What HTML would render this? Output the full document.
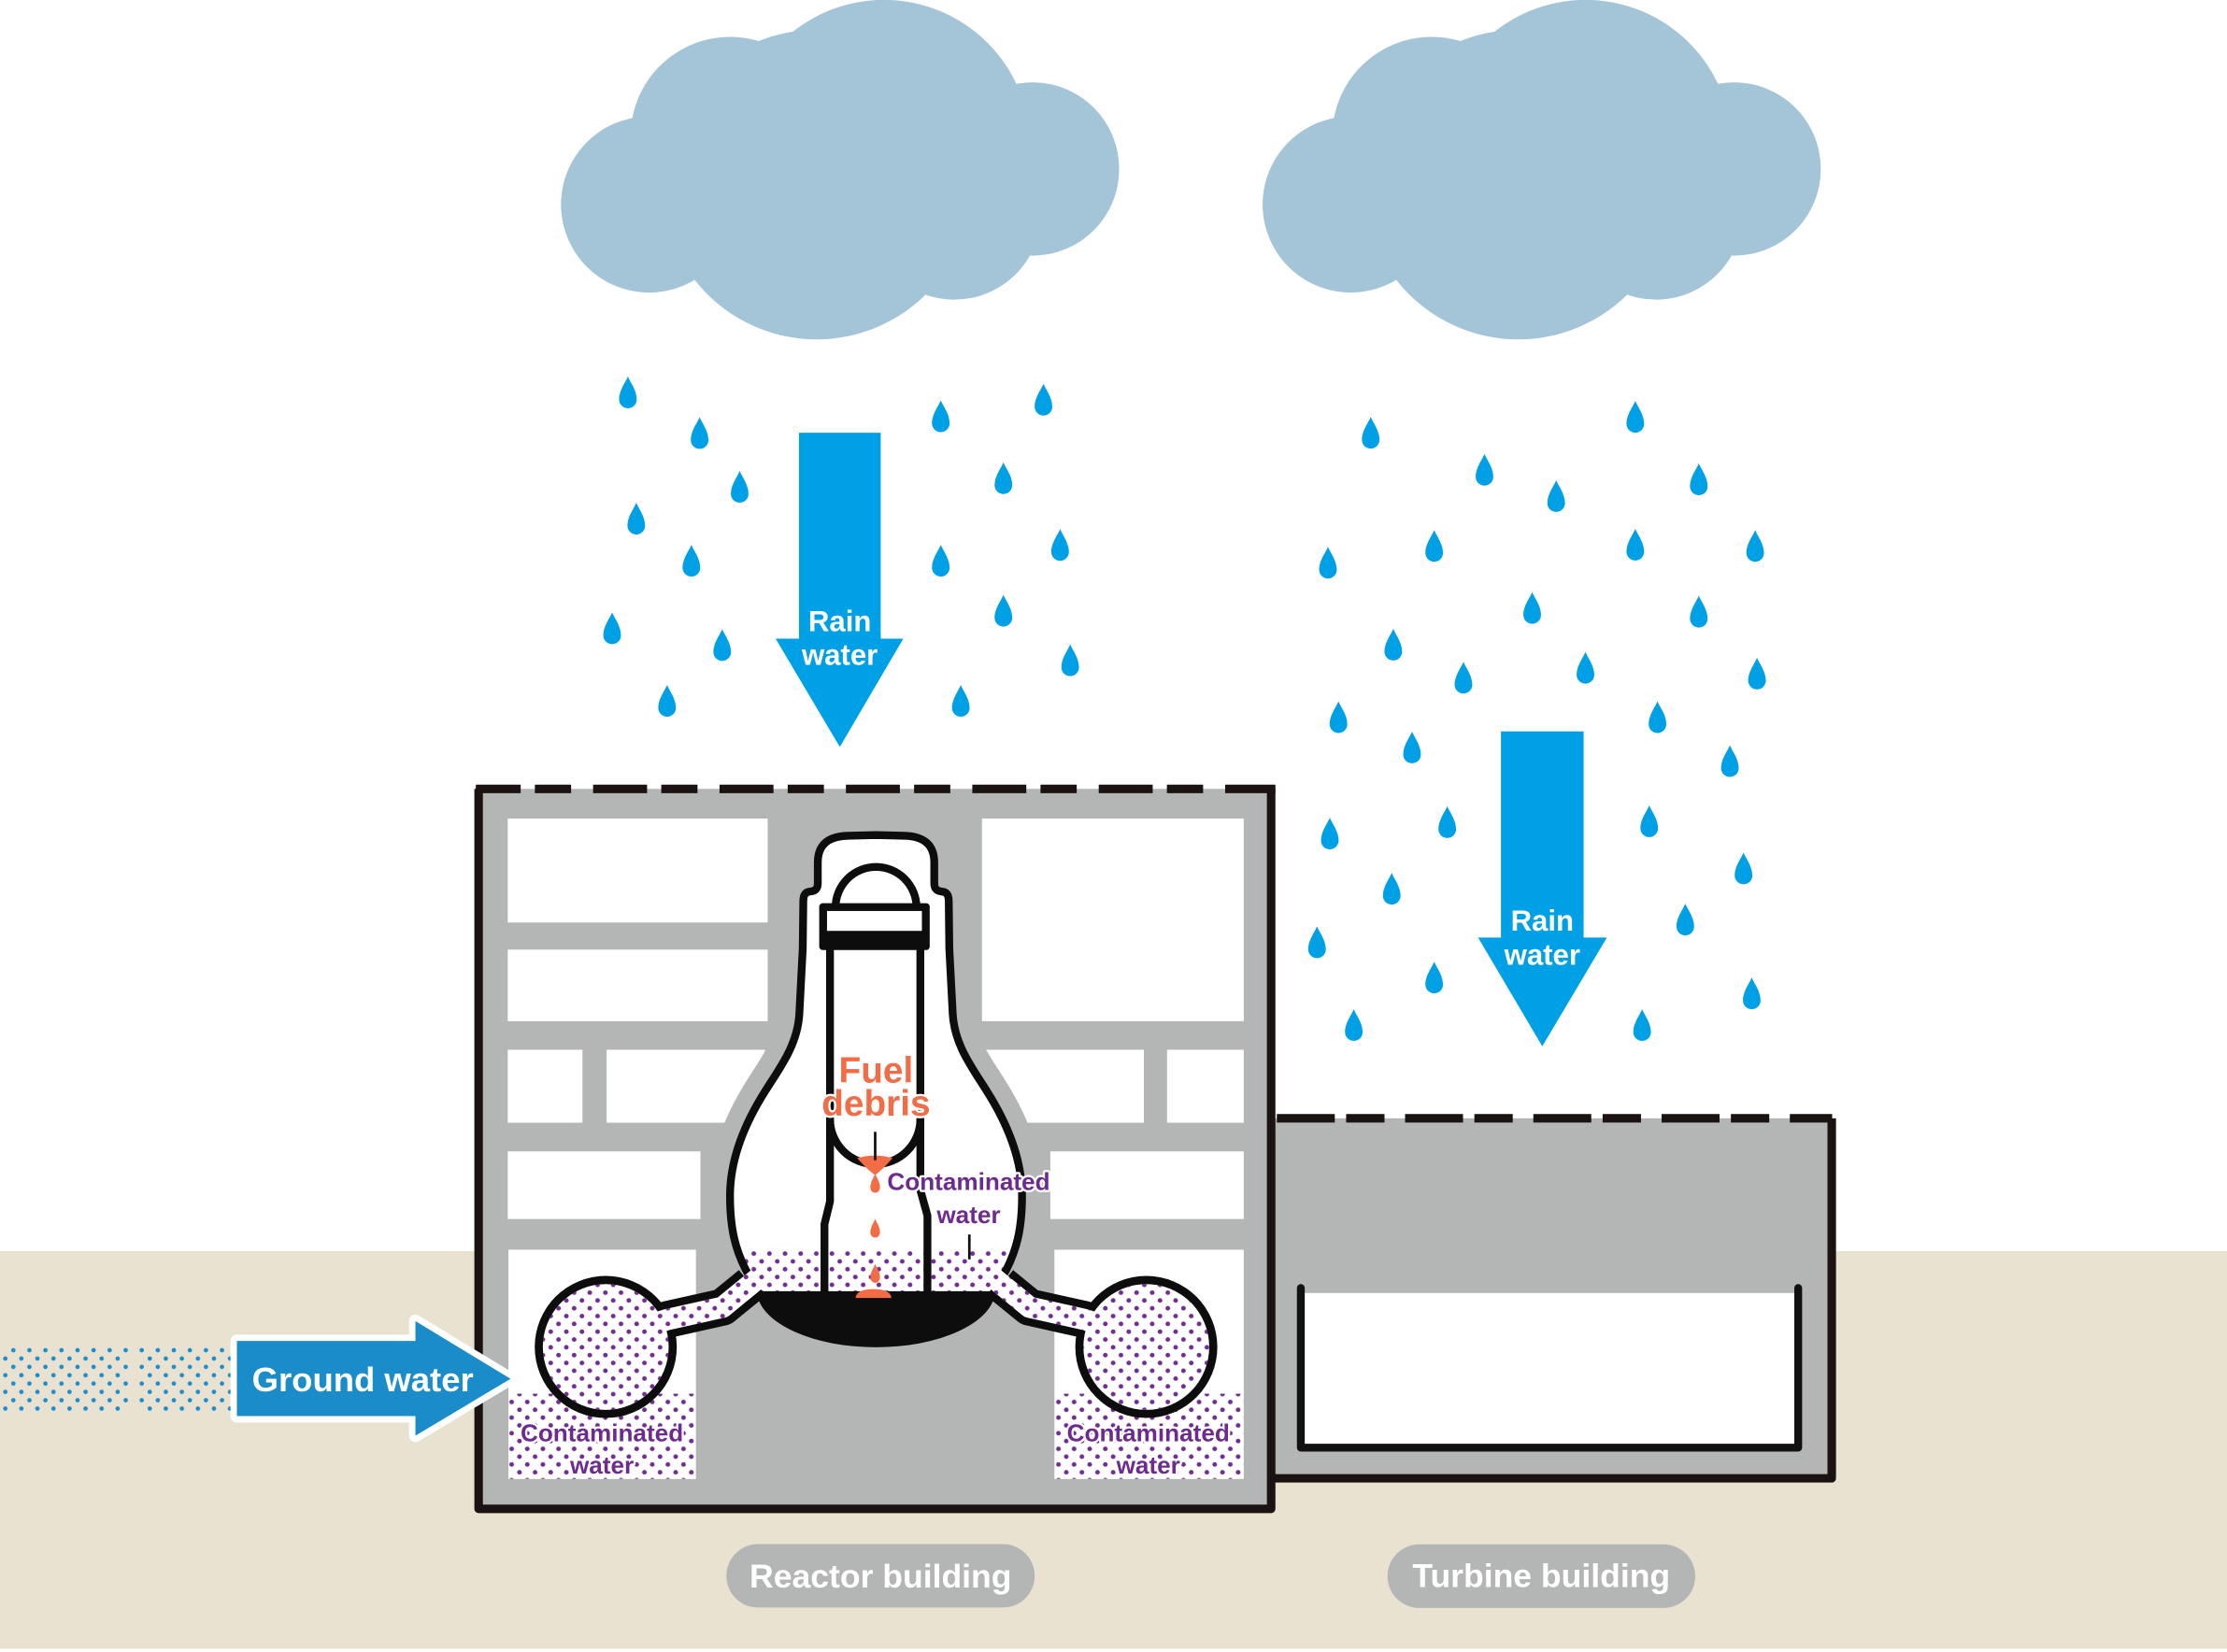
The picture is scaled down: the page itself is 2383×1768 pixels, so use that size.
<!DOCTYPE html>
<html>
<head>
<meta charset="utf-8">
<style>
  html,body{margin:0;padding:0;background:#fff;overflow:hidden;}
  svg{display:block;}
  text{font-family:"Liberation Sans",Arial,sans-serif;font-weight:bold;}
</style>
</head>
<body>
<svg xmlns="http://www.w3.org/2000/svg" xmlns:xlink="http://www.w3.org/1999/xlink" width="2383" height="1768" viewBox="0 0 1568 1163.3" preserveAspectRatio="none">
<defs>
  <pattern id="pd" patternUnits="userSpaceOnUse" x="0" y="0" width="11" height="11">
    <circle cx="2.75" cy="2.75" r="1.65" fill="#722d92"/>
    <circle cx="8.25" cy="8.25" r="1.65" fill="#722d92"/>
  </pattern>
  <pattern id="bd" patternUnits="userSpaceOnUse" x="0.92" y="947.87" width="11.3" height="11.74">
    <circle cx="8.48" cy="2.93" r="1.55" fill="#1a8dd0"/>
    <circle cx="2.83" cy="8.8" r="1.55" fill="#1a8dd0"/>
  </pattern>
  <path id="drop" d="M0,0 C1.5,4 6.2,9.5 6.2,16.2 A6.2,6.2 0 0 1 -6.2,16.2 C-6.2,9.5 -1.5,4 0,0 Z"/>
  <clipPath id="fc">
    <path d="M616.8,588 L597,588.5 Q576,589 575.8,607 L575.8,622 Q575.8,627.5 570.5,627.8 Q565.8,628 565.6,634 L565.2,668 L562.8,714 C561.5,736 549,752 539,768 C525,790 514,815 514,842 C514,866 518,880 525,894 L535,912 L698.6,912 L708.6,894 C715.6,880 719.6,866 719.6,842 C719.6,815 708.6,790 694.6,768 C684.6,752 672.1,736 670.8,714 L668.4,668 L668,634 Q667.8,628 663.1,627.8 Q657.8,627.5 657.8,622 L657.8,607 Q657.6,589 636.6,588.5 Z"/>
  </clipPath>
</defs>

<rect x="0" y="0" width="1568" height="1163.3" fill="#ffffff"/>
<rect x="0" y="881" width="1568" height="280" fill="#e9e2d0"/>

<g fill="#a4c4d8">
  <circle cx="457" cy="144" r="62"/>
  <circle cx="514" cy="96" r="70"/>
  <circle cx="622.4" cy="102.9" r="103"/>
  <circle cx="727" cy="119" r="61"/>
  <circle cx="575" cy="130" r="109"/>
  <circle cx="672" cy="150" r="61"/>
</g>
<g fill="#a4c4d8" transform="translate(494,0)">
  <circle cx="457" cy="144" r="62"/>
  <circle cx="514" cy="96" r="70"/>
  <circle cx="622.4" cy="102.9" r="103"/>
  <circle cx="727" cy="119" r="61"/>
  <circle cx="575" cy="130" r="109"/>
  <circle cx="672" cy="150" r="61"/>
</g>

<g fill="#00a0e6">
  <use href="#drop" x="442.1" y="265.1"/>
  <use href="#drop" x="492.6" y="293.7"/>
  <use href="#drop" x="520.8" y="331.6"/>
  <use href="#drop" x="448" y="354"/>
  <use href="#drop" x="486.8" y="383.6"/>
  <use href="#drop" x="431" y="431.2"/>
  <use href="#drop" x="508.5" y="443"/>
  <use href="#drop" x="469.7" y="482.3"/>
  <use href="#drop" x="662.4" y="281.9"/>
  <use href="#drop" x="734.7" y="270.2"/>
  <use href="#drop" x="706.5" y="325.5"/>
  <use href="#drop" x="662.4" y="383.6"/>
  <use href="#drop" x="746.4" y="372.5"/>
  <use href="#drop" x="706.5" y="418.8"/>
  <use href="#drop" x="753.5" y="453.7"/>
  <use href="#drop" x="676.5" y="482.3"/>
  <use href="#drop" x="965.1" y="293.5"/>
  <use href="#drop" x="1151.4" y="282.3"/>
  <use href="#drop" x="1045.2" y="319.6"/>
  <use href="#drop" x="1095.7" y="338.1"/>
  <use href="#drop" x="1196.1" y="326.3"/>
  <use href="#drop" x="935" y="385"/>
  <use href="#drop" x="1009.8" y="373.2"/>
  <use href="#drop" x="1151.4" y="372.3"/>
  <use href="#drop" x="1235.8" y="373.2"/>
  <use href="#drop" x="1078.8" y="416.9"/>
  <use href="#drop" x="1196.1" y="419.5"/>
  <use href="#drop" x="981" y="442.7"/>
  <use href="#drop" x="1030.4" y="466"/>
  <use href="#drop" x="1116.3" y="459"/>
  <use href="#drop" x="1237.1" y="463.1"/>
  <use href="#drop" x="942.4" y="493.8"/>
  <use href="#drop" x="994.2" y="515.1"/>
  <use href="#drop" x="1167" y="493.8"/>
  <use href="#drop" x="1218" y="524.7"/>
  <use href="#drop" x="936.3" y="575.7"/>
  <use href="#drop" x="1019" y="567.7"/>
  <use href="#drop" x="1161.2" y="567.1"/>
  <use href="#drop" x="979.9" y="614.6"/>
  <use href="#drop" x="1227.6" y="600.3"/>
  <use href="#drop" x="927.3" y="652.3"/>
  <use href="#drop" x="1009.8" y="677.1"/>
  <use href="#drop" x="1186.6" y="636.3"/>
  <use href="#drop" x="1233.4" y="688.3"/>
  <use href="#drop" x="953.2" y="710.6"/>
  <use href="#drop" x="1156.2" y="710.6"/>
</g>

<path d="M562.6,304.7 H620.1 V449.7 H636 L591.3,526 L546.1,449.7 H562.6 Z" fill="#00a0e6"/>
<text x="591.3" y="444.5" font-size="20.5" fill="#fff" text-anchor="middle">Rain</text>
<text x="591.3" y="468.2" font-size="20.5" fill="#fff" text-anchor="middle">water</text>

<path d="M1056.8,515 H1115 V660.2 H1131.4 L1085.9,736.8 L1040.7,660.2 H1056.8 Z" fill="#00a0e6"/>
<text x="1085.9" y="655.4" font-size="20.5" fill="#fff" text-anchor="middle">Rain</text>
<text x="1085.9" y="679.4" font-size="20.5" fill="#fff" text-anchor="middle">water</text>

<rect x="895" y="787.5" width="395" height="253.5" fill="#b4b5b5"/>
<rect x="915.9" y="910.5" width="350.2" height="108.9" fill="#ffffff"/>
<path d="M915.9,907 V1019.4 H1266.1 V907" fill="none" stroke="#111" stroke-width="5.5" stroke-linecap="round" stroke-linejoin="round"/>
<path d="M895,1041 H1289.7 V787.5" fill="none" stroke="#1a1311" stroke-width="6" stroke-linejoin="round"/>
<path d="M899,787.5 H1290" fill="none" stroke="#1a1311" stroke-width="6" stroke-dasharray="40.8 8 27 14.5"/>

<rect x="337" y="555.5" width="558" height="507" fill="#b4b5b5"/>
<g fill="#ffffff">
  <rect x="357.5" y="576.4" width="183" height="73.2"/>
  <rect x="357.5" y="668.7" width="183" height="50.4"/>
  <rect x="357.5" y="739.2" width="52.6" height="51.4"/>
  <rect x="427.1" y="739.2" width="111.4" height="51.4"/>
  <rect x="357.5" y="810.8" width="135.7" height="47.6"/>
  <rect x="358" y="880" width="132" height="161.5"/>
  <rect x="691.4" y="576.4" width="184.3" height="142.7"/>
  <rect x="693.3" y="739.2" width="112.1" height="51.4"/>
  <rect x="821.7" y="739.2" width="54" height="51.4"/>
  <rect x="739.5" y="810.8" width="136.2" height="47.6"/>
  <rect x="742.4" y="880" width="133.3" height="161.5"/>
</g>
<rect x="358" y="981.4" width="132" height="60" fill="url(#pd)"/>
<rect x="742.4" y="981.4" width="133.3" height="60" fill="url(#pd)"/>

<path d="M616.8,588 L597,588.5 Q576,589 575.8,607 L575.8,622 Q575.8,627.5 570.5,627.8 Q565.8,628 565.6,634 L565.2,668 L562.8,714 C561.5,736 549,752 539,768 C525,790 514,815 514,842 C514,866 518,880 525,894 L535,912 L698.6,912 L708.6,894 C715.6,880 719.6,866 719.6,842 C719.6,815 708.6,790 694.6,768 C684.6,752 672.1,736 670.8,714 L668.4,668 L668,634 Q667.8,628 663.1,627.8 Q657.8,627.5 657.8,622 L657.8,607 Q657.6,589 636.6,588.5 Z" fill="#b4b5b5" stroke="#b4b5b5" stroke-width="30" stroke-linejoin="round"/>

<g fill="none" stroke="#0d0d0d" stroke-width="26" stroke-linejoin="round" stroke-linecap="butt">
  <path d="M445,937 L469.8,929.2 L508.8,920.5 L528.5,904.4"/>
  <path d="M788.6,937 L763.8,929.2 L724.8,920.5 L705.1,904.4"/>
</g>
<circle cx="426.5" cy="948.5" r="50" fill="#0d0d0d"/>
<circle cx="807.1" cy="948.5" r="50" fill="#0d0d0d"/>

<path d="M616.8,588 L597,588.5 Q576,589 575.8,607 L575.8,622 Q575.8,627.5 570.5,627.8 Q565.8,628 565.6,634 L565.2,668 L562.8,714 C561.5,736 549,752 539,768 C525,790 514,815 514,842 C514,866 518,880 525,894 L535,912 L698.6,912 L708.6,894 C715.6,880 719.6,866 719.6,842 C719.6,815 708.6,790 694.6,768 C684.6,752 672.1,736 670.8,714 L668.4,668 L668,634 Q667.8,628 663.1,627.8 Q657.8,627.5 657.8,622 L657.8,607 Q657.6,589 636.6,588.5 Z" fill="#ffffff"/>
<rect x="500" y="879.5" width="235" height="36" fill="url(#pd)" clip-path="url(#fc)"/>
<path d="M616.8,588 L597,588.5 Q576,589 575.8,607 L575.8,622 Q575.8,627.5 570.5,627.8 Q565.8,628 565.6,634 L565.2,668 L562.8,714 C561.5,736 549,752 539,768 C525,790 514,815 514,842 C514,866 518,880 525,894 L535,912 L698.6,912 L708.6,894 C715.6,880 719.6,866 719.6,842 C719.6,815 708.6,790 694.6,768 C684.6,752 672.1,736 670.8,714 L668.4,668 L668,634 Q667.8,628 663.1,627.8 Q657.8,627.5 657.8,622 L657.8,607 Q657.6,589 636.6,588.5 Z" fill="none" stroke="#0d0d0d" stroke-width="5.5" stroke-linejoin="round"/>

<g fill="none" stroke-width="15" stroke-linejoin="round" stroke-linecap="butt">
  <path d="M445,937 L469.8,929.2 L508.8,920.5 L540,895" stroke="#ffffff"/>
  <path d="M788.6,937 L763.8,929.2 L724.8,920.5 L693.6,895" stroke="#ffffff"/>
  <path d="M445,937 L469.8,929.2 L508.8,920.5 L540,895" stroke="url(#pd)"/>
  <path d="M788.6,937 L763.8,929.2 L724.8,920.5 L693.6,895" stroke="url(#pd)"/>
</g>
<circle cx="426.5" cy="948.5" r="44.3" fill="#ffffff"/>
<circle cx="426.5" cy="948.5" r="44.3" fill="url(#pd)"/>
<circle cx="807.1" cy="948.5" r="44.3" fill="#ffffff"/>
<circle cx="807.1" cy="948.5" r="44.3" fill="url(#pd)"/>

<path d="M533,911 A84,40.5 0 0 0 700.6,911 Z" fill="#0d0d0d"/>

<g fill="none" stroke="#0d0d0d" stroke-width="5.5" stroke-linejoin="round">
  <path d="M584.4,668 L584.4,846 L580.5,862 L580.5,912"/>
  <path d="M648,668 L648,838 L653,856 L653,912"/>
  <path d="M584.4,788 A31.8,31.8 0 0 0 648,788"/>
  <path d="M588.3,639 A28.5,28.5 0 0 1 645.3,639" fill="#ffffff"/>
</g>
<rect x="576.8" y="636" width="77.8" height="33" rx="2.5" fill="#0d0d0d"/>
<rect x="582.3" y="641.5" width="66.8" height="14" fill="#ffffff"/>

<g fill="#f26c45">
  <path d="M603.5,815.5 Q616,812 628.5,815.5 Q621,824 616.2,827.5 Q611,824 603.5,815.5 Z"/>
  <use href="#drop" transform="translate(616.2,826.5) scale(0.55,0.6)"/>
  <use href="#drop" transform="translate(616.2,858.3) scale(0.55,0.59)"/>
  <use href="#drop" transform="translate(616.2,890.1) scale(0.55,0.59)"/>
  <path d="M602.4,914 Q603,907.8 615,907.8 Q627,907.8 627.6,914 Z"/>
</g>

<line x1="616.2" y1="797" x2="616.2" y2="817" stroke="#111" stroke-width="1.8"/>
<line x1="682.5" y1="869.3" x2="682.5" y2="886.8" stroke="#111" stroke-width="1.8"/>

<g font-size="25.5" fill="#f26c45" stroke="#ffffff" stroke-width="3" stroke-linejoin="round" paint-order="stroke" text-anchor="middle">
  <text x="616.8" y="762.2">Fuel</text>
  <text x="616.8" y="785.5">debris</text>
</g>

<g font-size="17.2" fill="#6d2b8f" stroke="#ffffff" stroke-width="3" stroke-linejoin="round" paint-order="stroke" text-anchor="middle">
  <text x="682" y="838">Contaminated</text>
  <text x="682" y="861.2">water</text>
  <text x="423.8" y="1014.8">Contaminated</text>
  <text x="423.8" y="1037.6">water</text>
  <text x="808.5" y="1014.8">Contaminated</text>
  <text x="808.5" y="1037.6">water</text>
</g>

<path d="M337,555.5 V1062.5 H895 V555.5" fill="none" stroke="#1a1311" stroke-width="6" stroke-linejoin="round"/>
<path d="M335,555.5 H898" fill="none" stroke="#1a1311" stroke-width="6" stroke-dasharray="38 10 25.5 15.5" stroke-dashoffset="6.4"/>

<rect x="0" y="947" width="91" height="48" fill="url(#bd)"/>
<rect x="97" y="947" width="70" height="48" fill="url(#bd)"/>

<path d="M166.8,944.3 H292.5 V930.3 L359.5,970.9 L292.5,1011 V997.2 H166.8 Z" fill="#ffffff" stroke="#ffffff" stroke-width="9" stroke-linejoin="round"/>
<path d="M166.8,944.3 H292.5 V930.3 L359.5,970.9 L292.5,1011 V997.2 H166.8 Z" fill="#1a8cca"/>
<text x="177.4" y="979.6" font-size="24" fill="#ffffff">Ground water</text>

<rect x="511.4" y="1087.3" width="217.1" height="44.7" rx="22.35" fill="#b4b6b6"/>
<text x="620" y="1118" font-size="23.4" fill="#ffffff" text-anchor="middle">Reactor building</text>
<rect x="976.9" y="1087.5" width="216.7" height="44.8" rx="22.4" fill="#b4b6b6"/>
<text x="1085.2" y="1117.6" font-size="23.4" fill="#ffffff" text-anchor="middle">Turbine building</text>
</svg>
</body>
</html>
